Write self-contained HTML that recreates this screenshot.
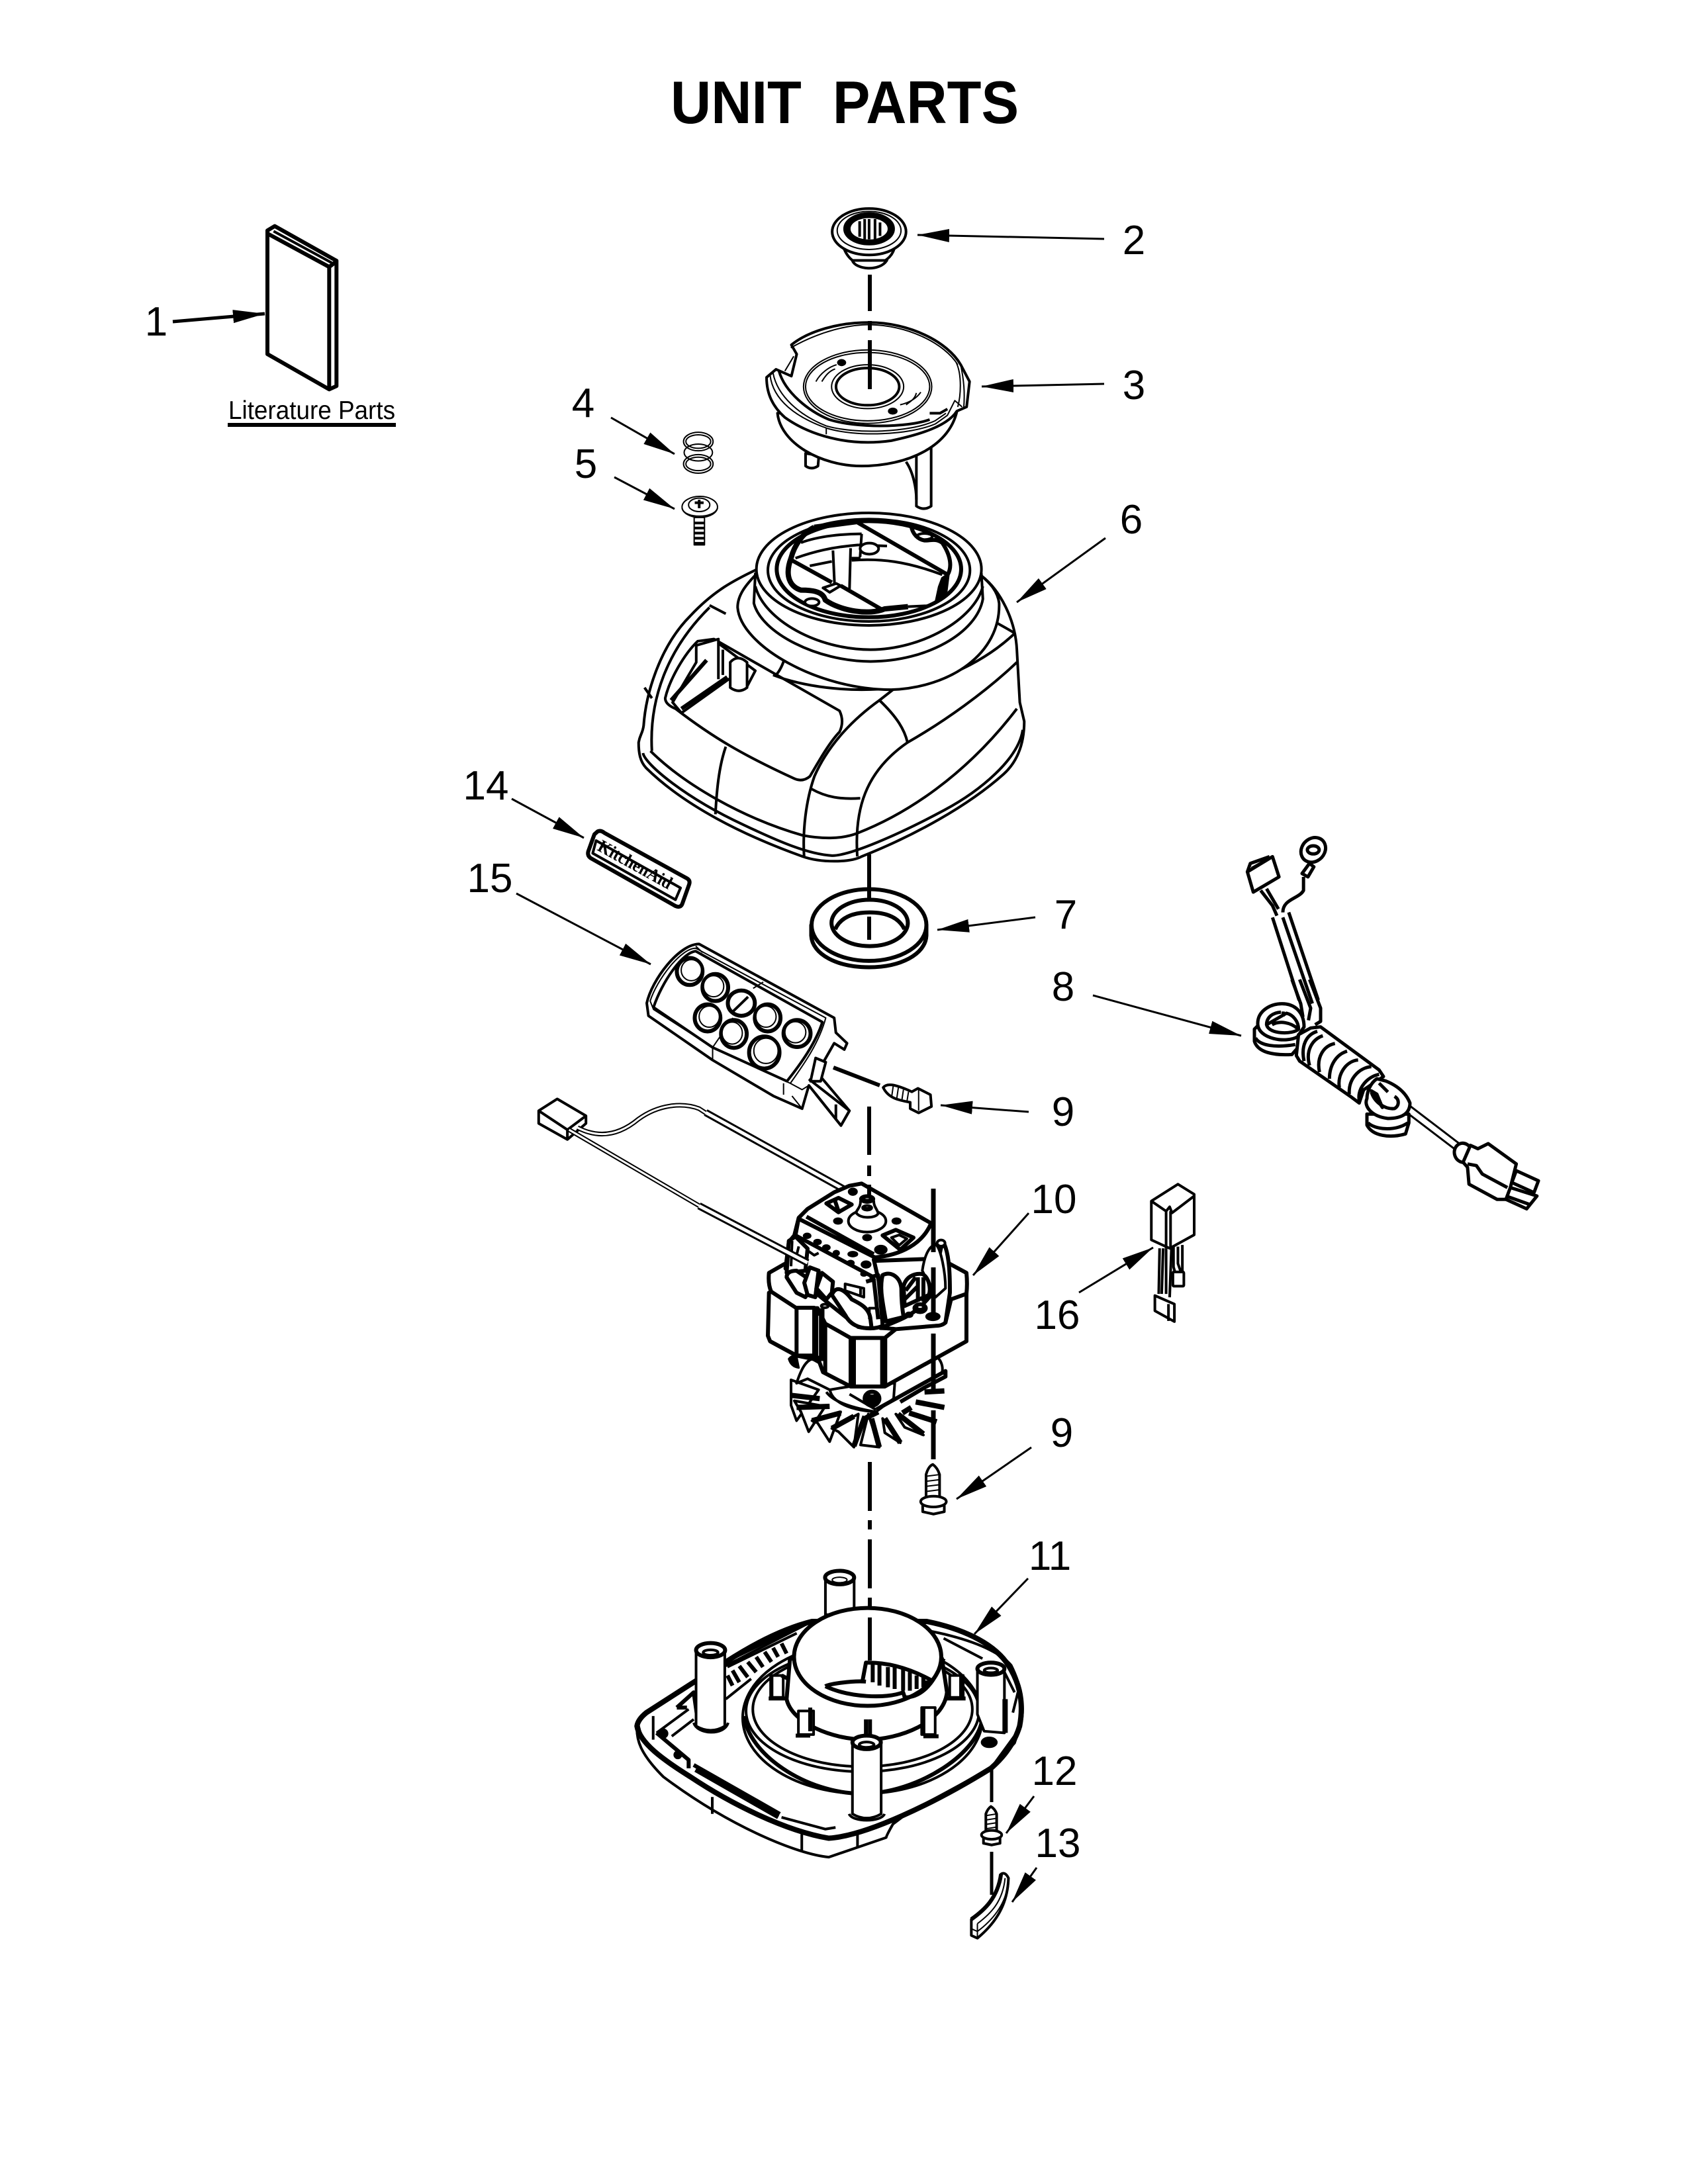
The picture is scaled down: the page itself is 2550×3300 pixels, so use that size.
<!DOCTYPE html>
<html><head><meta charset="utf-8"><title>Unit Parts</title>
<style>
html,body{margin:0;padding:0;background:#fff}
svg{display:block}
svg *{vector-effect:non-scaling-stroke;stroke-linejoin:round;stroke-linecap:butt}
g.d{fill:none;stroke:#000;stroke-width:3}
.t{stroke-width:2}.m{stroke-width:4}.b{stroke-width:6}.x{stroke-width:8}
.w{fill:#fff}.k{fill:#000}
text{fill:#000;stroke:none;font-family:"Liberation Sans",sans-serif;white-space:pre}
.n{font-size:62px;text-anchor:middle}
</style></head><body>
<svg xmlns="http://www.w3.org/2000/svg" width="2550" height="3300" viewBox="0 0 2550 3300">
<defs>
<marker id="a" markerUnits="userSpaceOnUse" markerWidth="50" markerHeight="22" refX="48" refY="11" orient="auto"><path d="M0 1L48 11L0 21Z" fill="#000" stroke="none"/></marker>
</defs>
<rect width="2550" height="3300" fill="#fff"/>

<text x="1013" y="186" font-size="91" font-weight="700" textLength="526" lengthAdjust="spacingAndGlyphs">UNIT  PARTS</text>

<!-- PART 1 -->
<g class="d" transform="translate(200,320) scale(.3333)">
<path class="b w" d="M612,85L645,65L925,222V790L892,805L612,645Z"/>
<path class="b" d="M615,100L892,250V805M892,250L925,225"/>
<path class="m" d="M640,88L905,232"/>
</g>
<text x="345" y="633" font-size="39" textLength="252" lengthAdjust="spacingAndGlyphs">Literature Parts</text>
<rect x="344" y="639" width="254" height="6" fill="#000"/>

<!-- PART 6 SHELL -->
<g class="d" transform="translate(900,280) scale(.4464,.6378)">
<path class="m w" d="M145,1320C150,1300 158,1300 162,1280C170,1200 220,1090 320,1020C400,960 470,935 545,910L1305,925C1370,960 1420,1030 1425,1100L1435,1225L1450,1270C1450,1330 1420,1370 1380,1395C1260,1470 1080,1540 900,1590C860,1605 760,1605 700,1590C500,1540 300,1470 170,1380C150,1365 145,1345 145,1320Z"/>
<path class="m" d="M160,1345C165,1370 300,1450 500,1515C620,1555 720,1585 800,1588C860,1588 1020,1540 1180,1480C1300,1435 1430,1360 1445,1290"/>
<path class="m" d="M185,1340C300,1420 500,1500 700,1540C760,1548 830,1550 885,1535C1050,1490 1250,1400 1425,1240"/>
<path class="m" d="M190,1340C180,1220 240,1100 385,1000M190,1215L165,1190M385,995L440,1015"/>
<path class="m" d="M405,1490C410,1420 420,1370 440,1330"/>
<!-- display panel -->
<path class="m w" d="M235,1215C250,1170 300,1110 345,1080L400,1075L825,1245Q842,1270 825,1295C790,1320 750,1370 725,1400Q700,1415 670,1405C500,1350 400,1310 270,1240Q235,1230 235,1215Z"/>
<path class="m w" d="M340,1090V1130L260,1225L290,1250L450,1170L510,1190L540,1150L415,1085V1075Z"/>
<path class="b" d="M255,1220L375,1125M290,1240L445,1165"/>
<path class="m w" d="M455,1130V1190Q485,1205 512,1190V1130Q480,1110 455,1130Z"/>
<path class="m" d="M415,1085V1170M430,1100V1160"/>
<!-- centre and right fender -->
<path class="m" d="M705,1590C700,1530 710,1460 740,1400C790,1320 880,1260 960,1220C1020,1260 1045,1290 1055,1320M730,1430C780,1450 830,1455 895,1452"/>
<path class="m" d="M885,1590C875,1480 910,1390 1055,1320C1180,1270 1320,1200 1425,1130M960,1220L1015,1190C1130,1185 1300,1140 1420,1060"/>
<path class="m" d="M1000,1130C1005,1155 1012,1175 1020,1190M610,1160C630,1145 645,1115 650,1085M600,1160L640,1170C760,1195 900,1200 1015,1190"/>
<path class="m" d="M1310,1010C1330,1030 1370,1040 1415,1060"/>
<!-- collar skirts -->
<path class="m w" d="M480,1000C490,1090 750,1195 1000,1195C1200,1190 1370,1110 1365,990C1360,960 1330,940 1305,925L545,920C510,945 480,970 480,1000Z"/>
<path class="m w" d="M540,920L535,990C560,1060 750,1128 930,1128C1120,1128 1290,1060 1310,980L1305,920Z"/>
<path class="m" d="M540,950C570,1030 750,1100 930,1100C1100,1100 1280,1030 1310,950"/>
</g>

<!-- collar interior at 1:3 -->
<g class="d" transform="translate(1130,760) scale(.3333)">
<ellipse class="m w" cx="548" cy="300" rx="510" ry="255"/>
<ellipse class="m" cx="548" cy="305" rx="458" ry="232"/>
<ellipse class="b w" cx="548" cy="300" rx="418" ry="218"/>
<path class="m" d="M240,180C320,150 430,140 515,140M215,250C300,220 380,200 500,190M470,260C600,250 720,265 880,325M280,285L380,265M385,215L392,365M465,205L460,390M515,140L508,245M470,250H510M630,195L500,190"/>
<ellipse class="m w" cx="550" cy="207" rx="42" ry="25"/>
<path class="b" d="M490,85L905,325M190,255L380,360M420,375L610,485"/>
<path class="x" d="M300,110L490,85M300,110C250,135 210,190 195,250C165,330 190,380 240,395C290,395 340,400 350,440C420,490 550,510 620,480L725,470"/>
<path class="k" d="M880,340L865,380L850,450L900,400L910,320Z"/>
<path class="m w" d="M340,385L400,365L420,375L370,405Z"/>
<ellipse class="m w" cx="290" cy="450" rx="32" ry="17"/>
<path class="b" d="M740,105C745,140 770,165 800,170C830,170 850,160 880,180C920,240 925,290 905,325"/>
<ellipse class="m" cx="800" cy="152" rx="35" ry="14"/>
<path class="m" d="M725,470L830,465"/>
</g>

<!-- PART 2 / 3 / 4 / 5 -->
<g class="d" transform="translate(900,280) scale(.4464,.6378)">
<!-- part 3 -->
<path class="m w" d="M710,635V665Q730,675 752,665L755,640Z"/>
<path class="m w" d="M1085,640V760Q1110,772 1135,760V620Z"/>
<path class="m" d="M1050,655C1075,680 1085,720 1085,745"/>
<path class="m w" d="M615,540C625,610 760,665 900,665C1050,665 1205,620 1225,525Z"/>
<path class="m w" d="M578,455L610,436L662,452L680,400L662,378C720,345 820,325 925,325C1060,325 1190,370 1235,425L1265,465L1255,525L1222,535C1190,570 1100,590 1000,605C850,620 720,590 640,550C600,525 578,495 578,455Z"/>
<path class="t" d="M590,450C600,510 680,550 780,575C880,597 1060,592 1150,565L1190,545L1215,510L1240,525"/>
<path class="t" d="M600,445C615,500 690,545 780,570C880,590 1060,586 1148,558L1185,540"/>
<path class="m" d="M620,440C640,490 720,535 790,555C880,575 1050,575 1130,555"/>
<path class="t" d="M780,575V590M1220,420C1240,450 1235,500 1225,525M1235,425C1245,460 1250,490 1245,530M660,385C760,345 860,330 925,330C1060,332 1180,375 1225,425M640,440L670,405"/>
<ellipse class="t" cx="920" cy="477" rx="217" ry="87"/>
<ellipse class="t" cx="920" cy="477" rx="210" ry="81"/>
<ellipse class="t" cx="920" cy="477" rx="122" ry="52"/>
<ellipse class="m" cx="920" cy="477" rx="107" ry="44"/>
<path class="t" d="M745,465C760,445 790,430 815,425M765,465C778,450 790,440 810,435M1030,520C1060,515 1085,505 1100,490M1050,520C1070,510 1080,505 1085,492"/>
<ellipse class="k" cx="832" cy="420" rx="12" ry="6"/>
<ellipse class="k" cx="1005" cy="535" rx="13" ry="6"/>
<path class="m" d="M1130,540H1165L1190,530"/>
<!-- part 2 -->
<path class="m w" d="M840,150C860,185 900,190 925,190C960,190 1000,175 1010,150Z"/>
<path class="m w" d="M868,178C880,200 960,205 985,178Z"/>
<ellipse class="m w" cx="925" cy="110" rx="125" ry="55"/>
<ellipse class="t" cx="925" cy="107" rx="108" ry="45"/>
<ellipse cx="925" cy="103" rx="84" ry="37" class="k" stroke="#000"/>
<ellipse class="w t" cx="925" cy="103" rx="65" ry="27"/>
<path class="m" d="M893,85V122M910,80V128M925,80V128M945,80V128M962,88V120"/>
<!-- part 4 -->
<ellipse class="t" cx="347" cy="607" rx="50" ry="22"/>
<ellipse class="t" cx="347" cy="607" rx="42" ry="16"/>
<ellipse class="t" cx="347" cy="633" rx="48" ry="20"/>
<ellipse class="t" cx="347" cy="660" rx="50" ry="22"/>
<ellipse class="t" cx="347" cy="660" rx="42" ry="16"/>
<!-- part 5 -->
<rect class="t w" x="333" y="787" width="35" height="65"/>
<path class="m" d="M333,800H368M333,812H368M333,824H368M333,836H368M333,848H368"/>
<ellipse class="t w" cx="352" cy="762" rx="60" ry="25"/>
<path class="t" d="M292,765C300,790 400,790 412,765"/>
<ellipse class="t w" cx="350" cy="757" rx="36" ry="16"/>
<path class="m" d="M335,752H365M350,745V765"/>
</g>

<!-- Z2: ring, badge, keypad, wire, screw -->
<g class="d" transform="translate(750,1200) scale(.5102,.6378)">
<path class="b w" d="M932,310V335C935,380 1010,410 1103,410C1195,410 1270,380 1273,335V310Z"/>
<ellipse class="b w" cx="1103" cy="310" rx="170" ry="85"/>
<ellipse class="b w" cx="1105" cy="305" rx="113" ry="55"/>
<path class="b" d="M1003,320C1020,290 1060,280 1105,280C1150,280 1190,290 1208,320"/>
<!-- badge -->
<path class="b w" d="M300,88Q310,85 320,92L565,200Q575,205 570,215L550,260Q545,270 530,265L280,152Q268,146 272,135L290,95Z"/>
<path class="m" d="M295,110L545,222L530,250L285,140Z"/>
<!-- keypad -->
<path class="m w" d="M445,495C460,440 540,355 600,355L1000,530L1005,565L1038,590L1030,605L1000,590L950,660L1045,750L1020,785L925,690L905,745L820,715L640,630L450,525Z"/>
<path class="t" d="M455,490C475,440 545,365 590,365L975,530C955,590 910,640 870,685L640,600L465,510Z"/>
<path class="m" d="M465,505C490,445 550,375 590,372L965,540C945,590 900,640 860,680L640,600Z"/>
<path class="t" d="M640,600V630M640,600L700,530M590,360L610,375M760,460L790,445M850,685V712M870,685L905,700L925,690M905,745L875,715"/>
<path class="m w" d="M930,680L945,625L975,635L960,680Z"/>
<path class="m" d="M925,675L1045,750L1020,785L945,710"/>
<path class="m" d="M1005,735L1005,770"/>
<g class="w">
<ellipse class="b" cx="572" cy="420" rx="38" ry="32"/><ellipse class="t" cx="577" cy="417" rx="30" ry="25"/>
<ellipse class="b" cx="648" cy="458" rx="38" ry="32"/><ellipse class="t" cx="643" cy="455" rx="30" ry="25"/>
<ellipse class="b" cx="725" cy="495" rx="40" ry="30"/><path class="m" d="M700,515L745,480"/>
<ellipse class="b" cx="803" cy="530" rx="38" ry="32"/><ellipse class="t" cx="798" cy="527" rx="30" ry="25"/>
<ellipse class="b" cx="890" cy="567" rx="40" ry="32"/><ellipse class="t" cx="885" cy="564" rx="31" ry="25"/>
<ellipse class="b" cx="625" cy="530" rx="38" ry="32"/><ellipse class="t" cx="630" cy="527" rx="30" ry="25"/>
<ellipse class="b" cx="703" cy="568" rx="38" ry="33"/><ellipse class="t" cx="698" cy="566" rx="30" ry="26"/>
<ellipse class="b" cx="793" cy="612" rx="45" ry="38"/><ellipse class="t" cx="798" cy="608" rx="36" ry="30"/>
</g>
<!-- screw -->
<path class="m w" d="M1145,695C1155,685 1175,685 1230,705L1248,697L1285,712L1288,740L1250,755L1225,745L1225,730C1190,725 1160,720 1145,695Z"/>
<path class="t" d="M1175,690L1170,718M1190,695L1185,722M1205,700L1200,727M1220,705L1215,730M1250,700L1250,750"/>
<!-- connector and far wire -->
<path class="m w" d="M125,750L180,722L265,762V780L210,818L125,780Z"/>
<path class="m" d="M125,750L210,795V818M210,795L265,762"/>
<path d="M240,790C300,815 360,810 420,770C480,735 550,730 600,745L625,758" stroke-width="7"/>
<path d="M240,790C300,815 360,810 420,770C480,735 550,730 600,745L625,758" stroke-width="3" stroke="#fff"/>
<path d="M215,795L600,975" stroke-width="7"/>
<path d="M215,795L600,975" stroke-width="3" stroke="#fff"/>
</g>
<text x="0" y="0" font-size="27" font-weight="700" style="font-family:'Liberation Serif',serif" transform="translate(901,1284) rotate(29)" textLength="124" lengthAdjust="spacingAndGlyphs">KitchenAid</text>
<path d="M1066,1681L1275,1797" stroke="#000" stroke-width="11" fill="none"/>
<path d="M1066,1681L1275,1797" stroke="#fff" stroke-width="5" fill="none"/>

<!-- MOTOR -->
<g class="d" transform="translate(1120,1760) scale(.3333)">
<!-- fan -->
<path class="m w" d="M225,975L350,1020L250,1160L225,1090Z"/>
<path class="m w" d="M240,1070L380,1095L305,1210L270,1120Z"/>
<path class="m w" d="M320,1160L450,1120L400,1255L345,1170Z"/>
<path class="m w" d="M410,1195L530,1130L510,1280L440,1210Z"/>
<path class="m w" d="M540,1270L575,1130L625,1280Z"/>
<path class="m w" d="M640,1150L720,1260L650,1215Z"/>
<path class="m w" d="M700,1130L825,1225L740,1190Z"/>
<path class="x" d="M225,1045L355,1060M250,1100L400,1095M320,1160L450,1125M410,1195L510,1140M510,1275L560,1140M625,1280L590,1150M720,1260L650,1150M825,1220L710,1130M885,1165L760,1125M920,1100L790,1075M920,1025L830,1030M770,1100L730,1125M620,1120L560,1150"/>
<path class="m w" d="M400,1000C395,1060 460,1110 610,1120L690,1060L695,990Z"/>
<path class="m" d="M385,1030C420,1080 520,1105 610,1120M490,1040L610,1110"/>
<ellipse class="k" cx="592" cy="1060" rx="38" ry="36"/>
<ellipse cx="592" cy="1040" rx="16" ry="6" fill="#fff"/>
<path class="m w" d="M250,990C270,930 290,890 320,880L365,905L370,940L490,1005L400,1020L300,970Z"/>
<path d="M215,880Q230,860 250,870L260,920Q225,915 215,880Z" fill="#000"/>
<path class="b" d="M610,1110L925,935V960L830,1010L720,1075"/>
<path class="m" d="M885,870C905,885 915,915 910,940"/>
<!-- body -->
<path class="b w" d="M125,580L120,775L130,800L250,865L350,885L370,940L495,1005L650,1005L1020,800V585L900,500L300,500Z"/>
<path class="b" d="M130,800L245,862"/>
<path class="b w" d="M125,490L195,450L900,425L1020,490Q1025,540 1020,585L950,610L925,715L700,745L650,785H495L380,720L345,650H250L135,575Q120,540 125,490Z"/>
<path class="b w" d="M250,648H330V865H250Z"/>
<rect x="330" y="655" width="42" height="230" fill="#000"/><rect x="344" y="680" width="12" height="190" fill="#fff"/>
<path class="b" d="M495,785V1005M510,785V1005M638,785V1005M652,785V1005M380,720V940"/>
<!-- bracket -->
<path class="b w" d="M630,740C720,700 780,690 860,590L905,375L920,360C945,420 945,520 945,580L925,715Q910,730 880,730L700,745Q650,740 630,740Z"/>
<path class="m w" d="M820,480C830,410 850,370 880,360C905,380 925,490 925,560L880,600Z"/>
<ellipse class="m w" cx="905" cy="355" rx="18" ry="14"/>
<path class="b w" d="M640,500C680,480 720,510 725,560C725,620 730,660 735,690L655,710C640,620 625,560 640,500Z"/>
<path class="b w" d="M735,550C745,510 780,490 820,495C850,510 860,560 850,590L740,640Z"/>
<path class="b" d="M745,570L790,510M740,610L800,550M800,510V620M825,510V620"/>
<ellipse class="k" cx="810" cy="650" rx="30" ry="22"/><ellipse class="w" cx="810" cy="645" rx="14" ry="8"/>
<ellipse class="k" cx="868" cy="688" rx="30" ry="16"/>
<ellipse class="k" cx="760" cy="680" rx="15" ry="10"/>
<!-- top plate -->
<path class="b w" d="M260,240L300,200L420,125L490,95L545,85L860,265C820,360 720,410 605,420L600,430L630,560L640,730Q600,750 530,735L410,640L330,575L200,470L215,350L240,320Z"/>
<path class="b" d="M260,245L605,420M260,240L245,320L600,510M295,235L600,405"/>
<path class="m" d="M605,420C720,410 820,360 860,265"/>
<path class="b" d="M580,510L620,500L640,720M565,530L600,520L620,700"/>
<g class="k">
<ellipse cx="505" cy="122" rx="18" ry="14"/><ellipse cx="438" cy="255" rx="18" ry="12"/><ellipse cx="703" cy="255" rx="18" ry="12"/><ellipse cx="570" cy="330" rx="18" ry="12"/><ellipse cx="632" cy="385" rx="26" ry="18"/>
<ellipse cx="298" cy="322" rx="15" ry="10"/><ellipse cx="345" cy="350" rx="15" ry="10"/><ellipse cx="385" cy="375" rx="15" ry="10"/><ellipse cx="430" cy="400" rx="12" ry="10"/><ellipse cx="505" cy="405" rx="20" ry="10"/><ellipse cx="495" cy="445" rx="14" ry="10"/><ellipse cx="565" cy="452" rx="20" ry="14"/><ellipse cx="555" cy="495" rx="12" ry="8"/>
</g>
<path class="b" d="M385,175L440,150L500,180L440,215ZM425,165L440,210M640,320L700,295L780,330L720,385Z"/>
<path class="m w" d="M680,330L715,318L750,335L715,365Z"/>
<ellipse class="m" cx="570" cy="255" rx="85" ry="50"/>
<path class="m w" d="M520,215C530,195 540,190 540,165H600C600,190 615,200 620,220C610,245 530,245 520,215Z"/>
<ellipse class="k" cx="570" cy="155" rx="32" ry="17"/><ellipse class="w" cx="570" cy="153" rx="16" ry="6"/>
<ellipse class="k" cx="570" cy="195" rx="22" ry="12"/><ellipse class="w" cx="570" cy="190" rx="14" ry="5"/>
<!-- wires & terminals -->
<path class="b w" d="M205,490L215,345L245,325L300,380L290,480Z"/>
<path class="m" d="M230,345L225,460M260,370L245,430M295,385L330,410L350,400"/>
<path class="b w" d="M205,510Q205,480 250,480L330,535L290,600L250,580Z"/>
<path class="b w" d="M285,535L310,465L350,480L335,600L300,590Z"/>
<path class="b w" d="M340,560L365,490L415,530L410,580L385,610Z"/>
<path class="b w" d="M410,590C430,540 470,570 500,610C540,630 580,650 585,700L590,740C530,745 490,720 470,680Z"/>
<path class="m w" d="M470,540L555,560V600L470,570Z"/>
<ellipse class="m w" cx="378" cy="640" rx="16" ry="8"/>
<path class="m" d="M540,555V590M610,650L580,650V700"/>
</g>
<path d="M1056,1822L1220,1908" stroke="#000" stroke-width="11" fill="none"/>
<path d="M1056,1822L1220,1908" stroke="#fff" stroke-width="5" fill="none"/>

<!-- PART 16 + 8 connectors and plug (z4) -->
<g class="d" transform="translate(1650,1200) scale(.4464,.5102)">
<path class="m" d="M275,1340V1400L280,1415M290,1340V1390L300,1415M305,1335V1415"/>
<rect class="m w" x="273" y="1415" width="37" height="42" rx="3"/>
<path class="m" d="M228,1345L225,1480M240,1345L235,1480M250,1345V1480M268,1345L262,1490"/>
<path class="m w" d="M212,1485L278,1510V1562L212,1530Z"/>
<path class="m" d="M258,1510V1560"/>
<path class="m w" d="M200,1205L290,1155L345,1185L345,1305L262,1345L200,1320Z"/>
<path class="m" d="M200,1205L250,1235L262,1222L270,1240L345,1190M250,1235V1345M265,1235V1345"/>
<g stroke-width="5">
<path d="M610,365L700,610M645,365L745,620M665,350L765,610"/>
<path class="w" d="M525,230L610,185L632,245L545,290Z"/>
<path d="M525,230L535,205L600,185M540,220L590,195"/>
<path d="M570,285L610,330L625,360M590,280L630,340"/>
<path d="M645,350C645,310 700,310 715,285V245"/>
<path class="w" d="M710,235L735,205L750,215L730,245Z"/>
<ellipse class="w" cx="748" cy="165" rx="43" ry="35" transform="rotate(-25 748 165)"/>
<ellipse cx="748" cy="165" rx="20" ry="12"/>
<path stroke-width="3" d="M1078,925L1250,1040M1075,950L1240,1060"/>
<ellipse class="w" cx="1255" cy="1062" rx="30" ry="28" transform="rotate(25 1255 1062)"/>
<path class="w" d="M1280,1040L1305,1050L1340,1035L1435,1095L1405,1200L1370,1200L1275,1155L1270,1105L1255,1090Z"/>
<path d="M1270,1095L1300,1100L1320,1125L1405,1165"/>
<path class="w" d="M1435,1115L1510,1145L1495,1180L1420,1150Z"/>
<path class="w" d="M1415,1165L1505,1190L1470,1228L1400,1200Z"/>
<path d="M1400,1190L1480,1215"/>
</g>
</g>

<!-- coil at 1:3 -->
<g class="d" transform="translate(1880,1480) scale(.3333)" stroke-width="5">
<path d="M215,0L255,110L265,170M250,0L300,130L290,185M295,0L345,130L345,190L320,205" stroke-width="5"/>
<path class="w" d="M45,225V280C60,330 130,345 215,340L250,300L240,230L60,210Z" stroke-width="5"/>
<path d="M50,265C70,300 140,310 230,295" stroke-width="5"/>
<path class="w" d="M60,200C60,140 120,110 170,110C230,110 270,150 270,215L240,260C190,290 60,270 60,200Z" stroke-width="5"/>
<path d="M100,205C100,170 130,150 165,148M190,153C220,160 245,190 245,225C220,250 110,250 100,205ZM125,205C160,185 210,195 240,222M175,145V168" stroke-width="5"/>
<path class="w" d="M245,250L300,220L345,215L610,410L630,440L540,500L520,560L480,530L250,370L235,345Z" stroke-width="5"/>
<path d="M330,235C280,250 255,300 270,370M355,255C310,270 275,320 295,390M410,290C360,300 325,350 340,420M465,325C415,340 385,390 385,450M515,365C460,370 420,430 430,490M575,395C520,400 470,450 475,520M610,430C560,440 510,490 520,550" stroke-width="5"/>
<path class="w" d="M555,610V660C580,710 660,720 730,700L745,650V610Z" stroke-width="5"/>
<path d="M560,650C590,680 680,690 740,650" stroke-width="5"/>
<path class="w" d="M555,540C540,570 570,620 650,630C710,630 750,610 750,560C730,510 690,480 640,460L600,450C570,470 555,510 555,540Z" stroke-width="5"/>
<path d="M575,510C590,560 640,590 680,585C700,575 705,545 680,530M610,470L650,510" stroke-width="5"/>
<path class="k" d="M575,505L625,580L600,520Z" stroke-width="5"/>
</g>

<!-- PART 11 (z3) -->
<g class="d" transform="translate(900,2200) scale(.5102)">
<path class="m w" d="M122,800Q122,780 150,760L290,670L640,490C1000,490 1180,560 1230,620C1260,680 1270,740 1260,790L1240,850L1170,925L920,1060L880,1090Q860,1125 860,1130L690,1188C600,1180 400,1100 200,950C130,880 120,840 122,800Z"/>
<path class="x" d="M122,800C130,850 200,900 280,950C400,1030 560,1110 690,1132C800,1125 1000,1030 1170,925C1210,890 1240,850 1255,800C1270,720 1250,660 1215,610C1170,550 1080,510 980,490L640,490C560,510 470,555 385,610L290,670L150,760Q125,780 122,800Z"/>
<path class="m" d="M125,790C130,820 140,850 175,880M345,1010V1060M610,1120V1170M775,1115V1160M1250,815L1170,925"/>
<path class="m" d="M170,770V840M180,820L275,750M225,830L290,780"/>
<circle class="k" cx="200" cy="822" r="12"/>
<path class="b" d="M180,820L275,900V925M240,745L290,700L300,770M240,745L270,745"/>
<circle class="k" cx="243" cy="885" r="10"/>
<path class="b" d="M290,915L545,1060M295,930L540,1070"/>
<path class="m" d="M550,1070L680,1105L710,1100M385,610L590,510M390,625L595,525"/>
<path class="m" d="M1030,540L1145,600M1250,700L1235,760M1210,640L1240,700"/>
<path class="m w" d="M680,470V360H765V470Z"/>
<ellipse class="b w" cx="722" cy="360" rx="43" ry="20"/>
<ellipse class="t" cx="722" cy="367" rx="22" ry="8"/>
<!-- vents -->
<path class="b" d="M390,650L405,680M405,635L425,670M425,622L450,655M450,610L475,640M475,595L495,625M500,580L520,610M525,568L540,595M550,555L565,585"/>
<path class="m" d="M385,720L460,660"/>
<!-- hub -->
<ellipse class="m w" cx="790" cy="775" rx="355" ry="225"/>
<ellipse class="m" cx="790" cy="755" rx="345" ry="180"/>
<ellipse class="m" cx="790" cy="750" rx="325" ry="170"/>
<path class="b" d="M440,770C450,880 620,1000 790,1000C950,1000 1140,880 1145,770"/>
<path class="b w" d="M575,600L565,720C580,790 700,840 800,840C900,840 1030,790 1040,700L1025,600Z"/>
<ellipse class="b w" cx="805" cy="595" rx="218" ry="145"/>
<path class="b" d="M680,682C690,675 760,665 800,668M790,665L800,612C880,610 950,640 995,665M680,682C750,715 860,720 910,700L915,715C960,715 1000,680 1030,600"/>
<path class="b" d="M820,615V670M840,618V680M865,625V685M885,625V690M910,630V695M930,640V695M950,650V690M970,655V685M980,665V680"/>
<!-- clips -->
<g>
<path class="m w" d="M518,650H555V715H518Z"/><path class="b" d="M512,718H560M520,650V715M550,650L570,660"/>
<path class="m w" d="M1048,650H1088V715H1048Z"/><path class="b" d="M1040,718H1095M1082,650V715"/>
<path class="m w" d="M600,755H645V825H600Z"/><path class="b" d="M592,828H635M635,745V815"/>
<path class="m w" d="M965,745H1005V825H965Z"/><path class="b" d="M970,745V825M970,830H1015"/>
</g>
<path class="b" d="M800,780V825M812,780V825"/>
<!-- posts -->
<path class="m w" d="M297,575V800Q340,825 382,800V575Z"/>
<path class="m" d="M290,790C300,825 380,830 392,790"/>
<ellipse class="b w" cx="340" cy="575" rx="43" ry="21"/>
<ellipse class="m" cx="340" cy="582" rx="22" ry="8"/>
<path class="m w" d="M760,848V1060Q802,1085 845,1060V848Z"/>
<ellipse class="b w" cx="802" cy="848" rx="42" ry="20"/>
<ellipse class="m" cx="802" cy="855" rx="22" ry="8"/>
<path class="m" d="M750,1060C760,1085 845,1085 855,1060"/>
<path class="m w" d="M1130,630V765L1150,815L1210,820V630Z"/>
<ellipse class="b w" cx="1170" cy="630" rx="40" ry="18"/>
<ellipse class="m" cx="1170" cy="635" rx="20" ry="7"/>
<path class="x" d="M1212,720V820"/>
<ellipse class="k" cx="1165" cy="848" rx="22" ry="14"/>
<!-- 9 lower screw -->
<path class="m w" d="M978,125V55Q985,30 998,25Q1012,35 1018,55V125Z"/>
<path class="t" d="M978,60L1018,55M978,75L1018,70M978,90L1018,85M978,105L1018,100"/>
<path class="m w" d="M968,145V165L1000,172L1032,165V145Z"/>
<ellipse class="m w" cx="1000" cy="135" rx="38" ry="16"/>
<!-- 12 -->
<path class="m w" d="M1155,1110V1060Q1160,1045 1170,1038Q1182,1045 1187,1060V1110Z"/>
<path class="t" d="M1155,1065L1187,1060M1155,1078L1187,1073M1155,1091L1187,1086M1155,1104L1187,1099"/>
<path class="m w" d="M1148,1130V1147L1172,1152L1197,1147V1130Z"/>
<ellipse class="m w" cx="1172" cy="1122" rx="30" ry="13"/>
<!-- 13 -->
<path class="m w" d="M1200,1238Q1212,1230 1222,1250C1220,1310 1200,1370 1130,1428L1112,1420V1372C1150,1345 1190,1310 1200,1238Z"/>
<path class="b" d="M1112,1372C1150,1345 1190,1310 1200,1238"/>
<path class="t" d="M1130,1385V1428M1130,1385C1170,1355 1205,1320 1212,1250M1112,1400L1130,1408C1175,1375 1210,1330 1218,1280"/>
</g>

<!-- Centre lines -->
<g stroke="#000" stroke-width="6" fill="none">
<path d="M1314,415V470M1314,485V499M1314,514V588"/>
<path d="M1313,1291V1360M1313,1385V1420M1313,1672V1745M1313,1761V1777M1313,1790V1809"/>
<path d="M1314,2209V2283M1314,2297V2311M1314,2326V2400M1314,2414V2427M1314,2444V2509"/>
<path d="M1259,1613L1329,1640"/>
<path d="M1498,2672V2723M1498,2798V2863" stroke-width="5"/>
<path d="M1410,1796V1892M1410,1915V1987M1410,2015V2103M1410,2131V2205" stroke-width="7"/>
</g>

<!-- Arrows -->
<g stroke="#000" stroke-width="3" fill="none">
<line x1="261" y1="486" x2="400" y2="474" stroke-width="5" marker-end="url(#a)"/>
<line x1="1668" y1="361" x2="1386" y2="355" marker-end="url(#a)"/>
<line x1="1668" y1="580" x2="1483" y2="584" marker-end="url(#a)"/>
<line x1="923" y1="631" x2="1019" y2="686" marker-end="url(#a)"/>
<line x1="928" y1="721" x2="1019" y2="769" marker-end="url(#a)"/>
<line x1="1670" y1="813" x2="1536" y2="910" marker-end="url(#a)"/>
<line x1="1564" y1="1386" x2="1416" y2="1405" marker-end="url(#a)"/>
<line x1="1651" y1="1504" x2="1875" y2="1565" marker-end="url(#a)"/>
<line x1="1554" y1="1680" x2="1421" y2="1670" marker-end="url(#a)"/>
<line x1="1554" y1="1833" x2="1470" y2="1927" marker-end="url(#a)"/>
<line x1="1553" y1="2385" x2="1472" y2="2469" marker-end="url(#a)"/>
<line x1="1562" y1="2714" x2="1520" y2="2770" marker-end="url(#a)"/>
<line x1="1566" y1="2822" x2="1529" y2="2874" marker-end="url(#a)"/>
<line x1="1558" y1="2187" x2="1445" y2="2265" marker-end="url(#a)"/>
<line x1="773" y1="1207" x2="882" y2="1266" marker-end="url(#a)"/>
<line x1="780" y1="1350" x2="983" y2="1457" marker-end="url(#a)"/>
<line x1="1630" y1="1953" x2="1742" y2="1885" marker-end="url(#a)"/>
</g>

<!-- Labels -->
<text class="n" x="236" y="507">1</text>
<text class="n" x="1713" y="384">2</text>
<text class="n" x="1713" y="603">3</text>
<text class="n" x="881" y="630">4</text>
<text class="n" x="885" y="722">5</text>
<text class="n" x="1709" y="806">6</text>
<text class="n" x="1610" y="1403">7</text>
<text class="n" x="1606" y="1512">8</text>
<text class="n" x="1606" y="1701">9</text>
<text class="n" x="1592" y="1833">10</text>
<text class="n" x="734" y="1208">14</text>
<text class="n" x="740" y="1348">15</text>
<text class="n" x="1597" y="2008">16</text>
<text class="n" x="1604" y="2186">9</text>
<text class="n" x="1586" y="2372">11</text>
<text class="n" x="1593" y="2697">12</text>
<text class="n" x="1598" y="2806">13</text>
</svg>
</body></html>
